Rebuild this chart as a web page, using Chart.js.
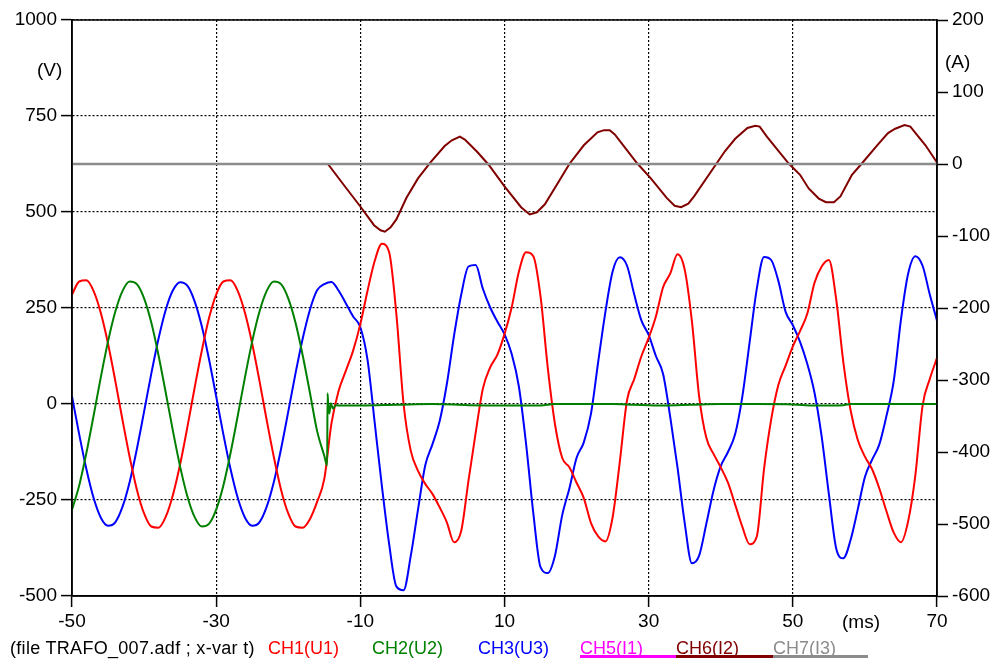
<!DOCTYPE html>
<html lang="en">
<head>
<meta charset="UTF-8">
<title>TRAFO_007</title>
<script src="https://cdn.jsdelivr.net/npm/chart.js@4"></script>
<style>
    body { margin: 0; background: #fff; font-family: "Liberation Sans", Arial, sans-serif; }
    .box { position: relative; width: 1001px; height: 664px; }
    #myChart { position: absolute; left: 0; top: 0; }
    .lbl { position: absolute; font-size: 19px; line-height: 20px; color: #000; white-space: nowrap; }
    .leg { position: absolute; top: 638px; font-size: 18px; line-height: 20px; white-space: nowrap; }
    .bar { position: absolute; top: 655px; height: 3px; }
</style>
</head>
<body>

<div class="box">
    <canvas id="myChart" width="1001" height="664"></canvas>

    <!-- unidades -->
    <div class="lbl" style="left:37px; top:60px">(V)</div>
    <div class="lbl" style="left:945px; top:52px">(A)</div>
    <div class="lbl" style="left:842px; top:612px">(ms)</div>

    <!-- legenda -->
    <div class="leg" style="left:10px; color:#000; letter-spacing:0.3px">(file TRAFO_007.adf ; x-var t)</div>
    <div class="leg" style="left:268px; color:#ff0000">CH1(U1)</div>
    <div class="leg" style="left:372px; color:#008000">CH2(U2)</div>
    <div class="leg" style="left:478px; color:#0000ff">CH3(U3)</div>
    <div class="leg" style="left:580px; color:#ff00ff">CH5(I1)</div>
    <div class="leg" style="left:676px; color:#800000">CH6(I2)</div>
    <div class="leg" style="left:773px; color:#8c8c8c">CH7(I3)</div>
    <div class="bar" style="left:580px; width:96px; background:#ff00ff"></div>
    <div class="bar" style="left:676px; width:97px; background:#800000"></div>
    <div class="bar" style="left:773px; width:95px; background:#8c8c8c"></div>
</div>

<script>
// eixo x (ms), uma amostra por ms
var tempo = Array.from({ length: 121 }, (_, i) => i - 50);

var xTicks = [-50, -30, -10, 10, 30, 50, 70];

// tensões (V)
var u1 = [
    285, 319, 322, 294, 237, 157, 61, -41, -138, -223,
    -285, -319, -322, -294, -237, -157, -61, 41, 138, 223,
    285, 319, 322, 294, 237, 157, 61, -41, -138, -223,
    -285, -319, -322, -300, -255, -195, -50, 35, 87, 139,
    208, 295, 373, 417, 395, 234, 0, -122, -174, -208,
    -234, -269, -308, -360, -330, -200, -75, 40, 95, 128,
    182, 252, 345, 395, 385, 280, 95, -52, -140, -165,
    -205, -245, -310, -345, -358, -295, -150, 10, 65, 125,
    172, 228, 304, 340, 390, 350, 215, 20, -88, -130,
    -165, -205, -262, -320, -365, -345, -170, -40, 50, 100,
    150, 190, 235, 315, 358, 375, 275, 110, -15, -93,
    -137, -170, -220, -280, -335, -360, -305, -185, -4, 65,
    120
];

var u3 = [
    20, -79, -170, -245, -296, -317, -308, -268, -203, -117,
    -20, 79, 170, 245, 296, 317, 308, 268, 203, 117,
    20, -79, -170, -245, -296, -317, -308, -268, -203, -117,
    -20, 79, 170, 245, 296, 312, 318, 295, 262, 228,
    200, 115, -50, -215, -365, -475, -485, -395, -275, -160,
    -105, -45, 52, 178, 285, 358, 362, 300, 252, 215,
    182, 130, 45, -105, -285, -425, -440, -395, -290, -220,
    -140, -100, -25, 110, 240, 345, 382, 360, 285, 217,
    180, 125, 78, -35, -165, -310, -415, -395, -312, -225,
    -162, -125, -78, 20, 160, 300, 383, 375, 320, 240,
    205, 162, 105, 30, -85, -235, -375, -402, -355, -275,
    -190, -145, -105, -30, 60, 220, 340, 385, 360, 285,
    217
];

// U2 tem amostras extras no instante da falta
var tempoU2 = [
    -50, -49, -48, -47, -46, -45, -44, -43, -42, -41,
    -40, -39, -38, -37, -36, -35, -34, -33, -32, -31,
    -30, -29, -28, -27, -26, -25, -24, -23, -22, -21,
    -20, -19, -18, -17, -16, -15,
    -14.6, -14.55, -14.45, -14.3, -14.1, -13.8, -13.4, -13, -10, -5,
    0, 5, 10, 15, 17, 20, 25, 28, 32, 36,
    40, 45, 50, 53, 57, 58, 62, 66, 70
];
var u2 = [
    -275, -212, -127, -30, 70, 163, 240, 294, 319, 312,
    275, 212, 127, 30, -70, -163, -240, -294, -319, -312,
    -275, -212, -127, -30, 70, 163, 240, 294, 319, 312,
    275, 212, 127, 30, -70, -135,
    -160, 28, -5, -25, 2, -12, -3, -4, -4, -2,
    0, -3, -4, -4, 0, 0, 0, -2, -4, -2,
    0, 0, -1, -4, -3, 0, 0, 0, 0
];

// correntes (A)
var tempoI2 = [
    -50, -14.5, -12, -10, -8.1, -7.2, -6.6, -5.8, -5.0, -3.6,
    -2.0, -0.3, 1.7, 2.7, 3.8, 4.5, 6.2, 7.8, 10, 12.3,
    13.5, 14.5, 15.6, 17.3, 19, 21, 22.9, 23.8, 24.6, 25.3,
    28.4, 30.3, 32.5, 33.6, 34.5, 35.5, 36.3, 39.3, 40.6, 42,
    43.7, 44.8, 45.4, 46.4, 49.4, 51, 52.2, 53.6, 54.6, 55.7,
    56.6, 58.2, 59.6, 61.7, 63.2, 64.2, 65.5, 66.3, 68.4, 70
];
var i2 = [
    0, 0, -33, -59, -85, -92, -94, -88, -77, -47,
    -20, 2, 25, 33, 38, 34, 17, -1, -31, -60,
    -70, -67, -56, -28, 0, 26, 44, 47, 47, 41,
    1, -20, -47, -58, -60, -55, -45, -1, 18, 35,
    50, 53, 52, 38, 1, -15, -34, -48, -53, -53,
    -45, -15, 1, 26, 43, 49, 54, 52, 26, 2
];
var tempoI13 = [-50, 70];
var i1 = [0, 0];
var i3 = [0, 0];

function pontos(ts, vs) {
    return ts.map((t, k) => ({ x: t, y: vs[k] }));
}

function serie(label, ts, vs, cor, eixo, ordem, largura, suave) {
    return {
        label: label,
        data: pontos(ts, vs),
        borderColor: cor,
        backgroundColor: cor,
        borderWidth: largura || 2,
        pointRadius: 0,
        cubicInterpolationMode: suave ? 'monotone' : 'default',
        tension: 0,
        yAxisID: eixo,
        order: ordem
    };
}

// moldura por cima das curvas
const moldura = {
    id: 'moldura',
    afterDatasetsDraw(chart) {
        const a = chart.chartArea;
        const ctx = chart.ctx;
        ctx.save();
        ctx.strokeStyle = '#000';
        ctx.lineWidth = 1.5;
        ctx.strokeRect(a.left, a.top, a.right - a.left, a.bottom - a.top);
        ctx.restore();
    }
};

Chart.defaults.font.family = '"Liberation Sans", Arial, sans-serif';
Chart.defaults.color = '#000';

const config = {
    type: 'line',
    data: {
        datasets: [
            serie('CH1(U1)', tempo, u1, '#ff0000', 'y', 5, 2, true),
            serie('CH2(U2)', tempoU2, u2, '#008000', 'y', 4, 2, true),
            serie('CH3(U3)', tempo, u3, '#0000ff', 'y', 6, 2, true),
            serie('CH5(I1)', tempoI13, i1, '#ff00ff', 'yA', 3, 2),
            serie('CH6(I2)', tempoI2, i2, '#800000', 'yA', 2, 2),
            serie('CH7(I3)', tempoI13, i3, '#8c8c8c', 'yA', 1, 2.5)
        ]
    },
    options: {
        responsive: false,
        animation: false,
        devicePixelRatio: 1,
        layout: { padding: { top: 20, left: 0, right: 0, bottom: 0 } },
        plugins: {
            legend: { display: false },
            tooltip: { enabled: false }
        },
        scales: {
            x: {
                type: 'linear',
                min: -50,
                max: 70,
                afterBuildTicks: s => { s.ticks = xTicks.map(v => ({ value: v })); },
                afterFit: s => { s.height = 68; },
                ticks: { font: { size: 19 }, padding: 3, maxRotation: 0, callback: v => String(v) },
                grid: { color: '#000', lineWidth: 1.2, tickLength: 11, tickWidth: 1.5, tickBorderDash: [] },
                border: { color: '#000', width: 1.5, dash: [2, 2] }
            },
            y: {
                position: 'left',
                min: -500,
                max: 1000,
                ticks: { stepSize: 250, font: { size: 19 }, padding: 4, callback: v => String(v) },
                afterFit: s => { s.width = 72; },
                grid: { color: '#000', lineWidth: 1.2, tickLength: 11, tickWidth: 1.5, tickBorderDash: [] },
                border: { color: '#000', width: 1.5, dash: [2, 2] }
            },
            yA: {
                position: 'right',
                min: -600,
                max: 200,
                ticks: { stepSize: 100, font: { size: 19 }, padding: 4, callback: v => String(v) },
                afterFit: s => { s.width = 64; },
                grid: { drawOnChartArea: false, color: '#000', tickLength: 11, tickWidth: 1.5, tickBorderDash: [] },
                border: { color: '#000', width: 1.5 }
            }
        }
    },
    plugins: [moldura]
};

const myChart = new Chart(document.getElementById('myChart'), config);
</script>
</body>
</html>
